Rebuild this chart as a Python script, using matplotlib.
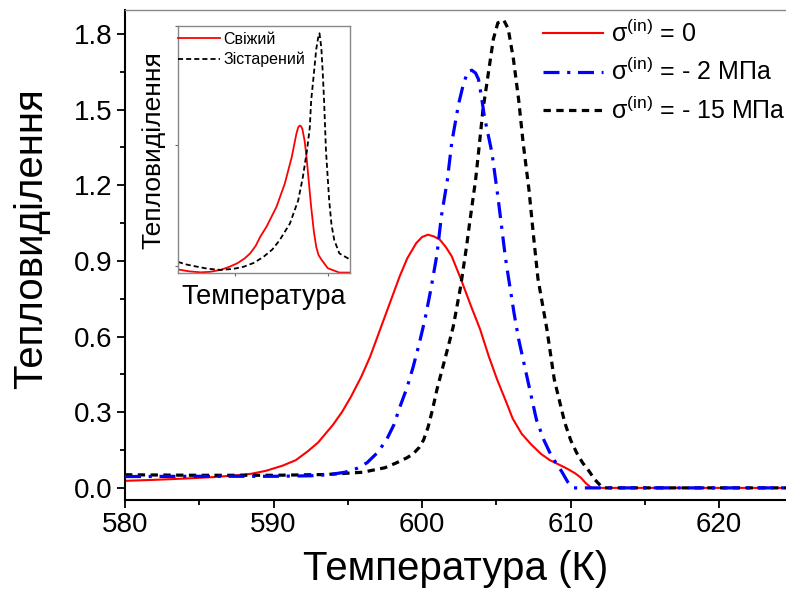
import numpy as np
import matplotlib
matplotlib.use('Agg')
import matplotlib.pyplot as plt
from matplotlib.ticker import MultipleLocator

plt.rcParams['font.family'] = ['Liberation Sans', 'DejaVu Sans']
plt.rcParams['mathtext.fontset'] = 'custom'
plt.rcParams['mathtext.rm'] = 'Liberation Sans'

# main DSC curves: temperature (K), heat release (a.u.)
t_0 = [580.0, 582.0, 584.0, 586.0, 587.5, 588.5, 589.5, 590.6, 591.5, 592.3, 593.0, 594.0,
       594.6, 595.2, 595.9, 596.5, 597.0, 597.5, 598.0, 598.5, 599.0, 599.6, 600.0, 600.4,
       600.8, 601.2, 601.6, 602.0, 602.6, 603.3, 603.9, 604.5, 605.05, 605.6, 606.1, 606.7,
       607.3, 608.0, 608.6, 609.3, 609.8, 610.3, 610.7, 611.0, 611.4, 624.5]
q_0 = [0.028, 0.032, 0.037, 0.043, 0.050, 0.056, 0.068, 0.088, 0.11, 0.145, 0.18, 0.25,
       0.30, 0.36, 0.44, 0.52, 0.60, 0.68, 0.76, 0.84, 0.91, 0.97, 0.995, 1.004,
       0.997, 0.984, 0.955, 0.918, 0.83, 0.72, 0.63, 0.52, 0.43, 0.35, 0.275, 0.215,
       0.175, 0.135, 0.11, 0.09, 0.075, 0.058, 0.04, 0.02, 0.0, 0.0]

t_2 = [580.0, 585.0, 590.0, 592.5, 593.8, 594.8, 595.6, 596.3, 597.0, 597.6, 598.1, 598.5,
       599.0, 599.4, 599.8, 600.2, 600.6, 601.0, 601.3, 601.7, 602.0, 602.45, 602.8, 603.1,
       603.35, 603.6, 603.8, 604.0, 604.2, 604.7, 605.1, 605.6, 605.8, 606.2, 606.5, 607.1,
       607.7, 608.2, 608.6, 609.0, 609.4, 609.8, 610.2, 624.5]
q_2 = [0.045, 0.046, 0.046, 0.048, 0.053, 0.062, 0.077, 0.10, 0.14, 0.19, 0.25, 0.32,
       0.40, 0.48, 0.57, 0.67, 0.79, 0.925, 1.077, 1.22, 1.37, 1.52, 1.606, 1.652,
       1.656, 1.645, 1.62, 1.55, 1.47, 1.33, 1.157, 0.918, 0.84, 0.69, 0.59, 0.43,
       0.27, 0.19, 0.14, 0.10, 0.065, 0.024, 0.0, 0.0]

t_15 = [580.0, 585.0, 590.0, 593.5, 596.0, 597.5, 598.3, 599.0, 599.4, 599.8, 600.1, 600.4,
        600.7, 601.0, 601.4, 601.8, 602.1, 602.6, 603.0, 603.2, 603.6, 603.8, 604.1, 604.5,
        604.8, 605.1, 605.5, 605.8, 606.15, 606.5, 606.8, 607.2, 607.5, 607.8, 608.4, 608.9,
        609.6, 610.0, 610.4, 610.8, 611.2, 611.6, 612.0, 612.3, 624.5]
q_15 = [0.052, 0.05, 0.05, 0.053, 0.062, 0.08, 0.10, 0.12, 0.135, 0.16, 0.19, 0.24,
        0.31, 0.39, 0.48, 0.57, 0.64, 0.80, 0.96, 1.05, 1.22, 1.33, 1.50, 1.66,
        1.78, 1.844, 1.855, 1.82, 1.70, 1.54, 1.37, 1.18, 1.00, 0.83, 0.63, 0.43,
        0.26, 0.19, 0.14, 0.10, 0.07, 0.035, 0.01, 0.0, 0.0]

# inset: fresh vs aged sample
ti_fresh = [567.6, 570.0, 572.5, 574.5, 576.8, 578.6, 580.4, 582.0, 583.2, 584.4, 585.4, 586.8,
            588.9, 590.7, 592.2, 593.2, 593.6, 593.9, 594.2, 594.5, 595.0, 595.4, 596.4, 597.0,
            597.5, 598.0, 598.6, 600.0, 602.5, 604.7]
qi_fresh = [-0.014, -0.022, -0.026, -0.024, -0.016, -0.004, 0.011, 0.031, 0.052, 0.083, 0.121, 0.164,
            0.244, 0.340, 0.449, 0.545, 0.572, 0.579, 0.577, 0.565, 0.515, 0.449, 0.244, 0.140,
            0.079, 0.045, 0.027, -0.009, -0.027, -0.027]
ti_aged = [567.6, 569.5, 571.8, 574.0, 576.8, 579.5, 581.8, 584.0, 586.1, 588.0, 589.6, 591.8,
           593.6, 594.6, 595.5, 596.1, 596.4, 596.8, 597.5, 597.9, 598.2, 598.6, 598.9, 599.2,
           599.6, 600.3, 600.8, 601.4, 602.5, 604.7]
qi_aged = [0.017, 0.006, -0.003, -0.011, -0.016, -0.012, -0.003, 0.013, 0.038, 0.068, 0.107, 0.175,
           0.271, 0.366, 0.477, 0.570, 0.682, 0.757, 0.894, 0.94, 0.960, 0.90, 0.80, 0.68,
           0.477, 0.271, 0.17, 0.107, 0.052, 0.028]

labels = ['σ$^{\\mathregular{(in)}}$ = 0',
          'σ$^{\\mathregular{(in)}}$ = - 2 МПа',
          'σ$^{\\mathregular{(in)}}$ = - 15 МПа']

fig = plt.figure(figsize=(7.86, 5.91), dpi=100)
ax = fig.add_axes([125 / 786, 91 / 591, 661 / 786, 490 / 591])

l0, = ax.plot(t_0, q_0, color='#ff0000', lw=1.5, zorder=2)
l15, = ax.plot(t_15, q_15, color='black', lw=2.3, dashes=(2.3, 1.7), zorder=3)
l2, = ax.plot(t_2, q_2, color='#0000ff', lw=2.3, dashes=(5, 2.4, 1, 2.4), zorder=4)

ax.set_xlim(580, 624.5)
ax.set_ylim(-0.048, 1.895)
ax.xaxis.set_major_locator(MultipleLocator(10))
ax.xaxis.set_minor_locator(MultipleLocator(5))
ax.yaxis.set_major_locator(MultipleLocator(0.3))
ax.yaxis.set_minor_locator(MultipleLocator(0.15))
ax.yaxis.set_major_formatter(plt.FuncFormatter(lambda v, p: '%.1f' % v))
ax.tick_params(which='major', direction='out', length=6, width=1.3, labelsize=20, pad=3)
ax.tick_params(which='minor', direction='out', length=3.5, width=1.3)
ax.tick_params(top=False, right=False)
for s in ['left', 'bottom']:
    ax.spines[s].set_linewidth(1.5)
ax.spines['right'].set_visible(False)
ax.spines['top'].set_color('#888888')
ax.spines['top'].set_linewidth(1.0)

ax.set_xlabel('Температура (К)', fontsize=29, labelpad=8)
ax.set_ylabel('Тепловиділення', fontsize=29)
ax.yaxis.set_label_coords(-0.113, 0.533)

ax.legend([l0, l2, l15], labels, loc='upper left', bbox_to_anchor=(543 / 786, 1 - 20 / 591),
          bbox_transform=fig.transFigure, frameon=False, fontsize=18, handlelength=2.4,
          handletextpad=0.33, labelspacing=0.45, borderpad=0, borderaxespad=0)

# inset
axi = fig.add_axes([177.5 / 786, (591 - 273.3) / 591, 172.5 / 786, 247.3 / 591])
axi.plot(ti_fresh, qi_fresh, color='#ff0000', lw=1.3, label='Свіжий')
axi.plot(ti_aged, qi_aged, color='black', lw=1.3, dashes=(2.8, 1.7), label='Зістарений')
axi.set_xlim(567.5, 604.8)
axi.set_ylim(-0.03, 0.99)
axi.set_xticks([580, 600])
axi.set_yticks([0, 0.5, 0.99])
axi.tick_params(direction='out', length=2.5, width=0.8, color='#666666',
                labelbottom=False, labelleft=False)
for s in axi.spines.values():
    s.set_color('#888888')
    s.set_linewidth(1.0)
axi.set_xlabel('Температура', fontsize=19.5, labelpad=5)
axi.set_ylabel('Тепловиділення', fontsize=19, labelpad=6)
axi.legend(loc='upper left', bbox_to_anchor=(178 / 786, 1 - 32 / 591), bbox_transform=fig.transFigure,
           frameon=False, fontsize=11.5, handlelength=2.6, handletextpad=0.25, labelspacing=0.3,
           borderpad=0, borderaxespad=0)

fig.savefig('out.png', dpi=100)
